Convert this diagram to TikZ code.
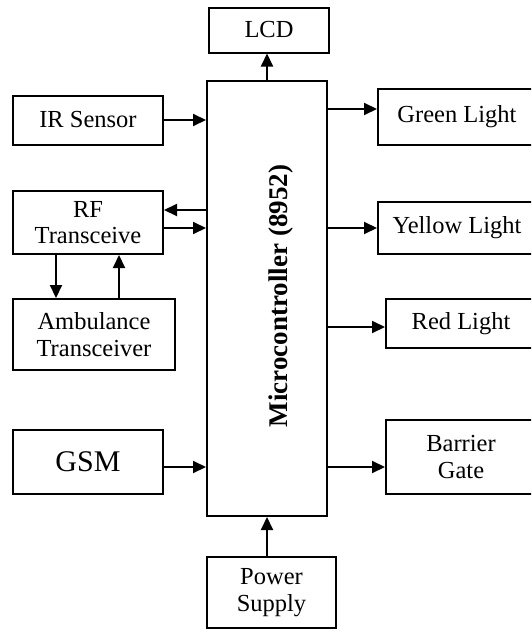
\documentclass[tikz,border=0pt]{standalone}
\usepackage{fontspec}
\setmainfont{Liberation Serif}
\usetikzlibrary{arrows.meta}
\begin{document}
\begin{tikzpicture}[x=1pt,y=-1pt,
  box/.style={draw, line width=2pt, rectangle, inner sep=0pt, align=center, font=\fontsize{24.5}{26.5}\selectfont},
  arr/.style={line width=2pt, -{Triangle[length=13pt,width=12pt]}}]
\useasboundingbox (0,0) rectangle (531,629);
\fill[white] (0,0) rectangle (531,629);
\clip (0,0) rectangle (531,629);
\node[box, minimum width=120pt, minimum height=45pt] (lcd) at (269,30) {LCD};
\node[box, minimum width=120pt, minimum height=435pt] (mc) at (267,298.5) {};
\node[font=\bfseries\fontsize{27}{29}\selectfont, rotate=90] (mct) at (281,296) {Microcontroller (8952)};
\node[box, minimum width=150pt, minimum height=49pt] (ir) at (88,120) {IR Sensor};
\node[box, minimum width=150pt, minimum height=63pt] (rf) at (88,222.5) {RF\\Transceive};
\node[box, minimum width=162pt, minimum height=71pt] (amb) at (94,334.5) {Ambulance\\Transceiver};
\node[box, minimum width=150pt, minimum height=64pt, font=\fontsize{30}{32}\selectfont] (gsm) at (88,462) {GSM};
\node[box, minimum width=129pt, minimum height=71pt] (ps) at (271.5,592.5) {Power\\Supply};
\node[box, minimum width=158pt, minimum height=56pt] (gl) at (457,117) {Green Light};
\node[box, minimum width=158pt, minimum height=52pt] (yl) at (457,228) {Yellow Light};
\node[box, minimum width=150pt, minimum height=49pt] (rl) at (461,323.5) {Red Light};
\node[box, minimum width=150pt, minimum height=74pt] (bg) at (461,457) {Barrier\\Gate};
% arrows
\draw[arr] (mc.north) -- (mc.north |- lcd.south);
\draw[arr] (ir.east) -- (ir.east -| mc.west);
\coordinate (rfo) at ([yshift=12.5pt]rf.east);
\draw[arr] (rfo -| mc.west) -- (rfo);
\coordinate (rfi) at ([yshift=-5.5pt]rf.east);
\draw[arr] (rfi) -- (rfi -| mc.west);
\coordinate (d1) at ([xshift=-32pt]rf.south);
\draw[arr] (d1) -- (d1 |- amb.north);
\coordinate (u1) at ([xshift=31pt]rf.south);
\draw[arr] (u1 |- amb.north) -- (u1);
\coordinate (gs) at ([yshift=-5pt]gsm.east);
\draw[arr] (gs) -- (gs -| mc.west);
\coordinate (g1) at ([yshift=8pt]gl.west);
\draw[arr] (g1 -| mc.east) -- (g1);
\draw[arr] (yl.west -| mc.east) -- (yl.west);
\coordinate (r1) at ([yshift=-3.5pt]rl.west);
\draw[arr] (r1 -| mc.east) -- (r1);
\coordinate (b1) at ([yshift=-10pt]bg.west);
\draw[arr] (b1 -| mc.east) -- (b1);
\draw[arr] (ps.north -| mc.south) -- (mc.south);
\end{tikzpicture}
\end{document}
